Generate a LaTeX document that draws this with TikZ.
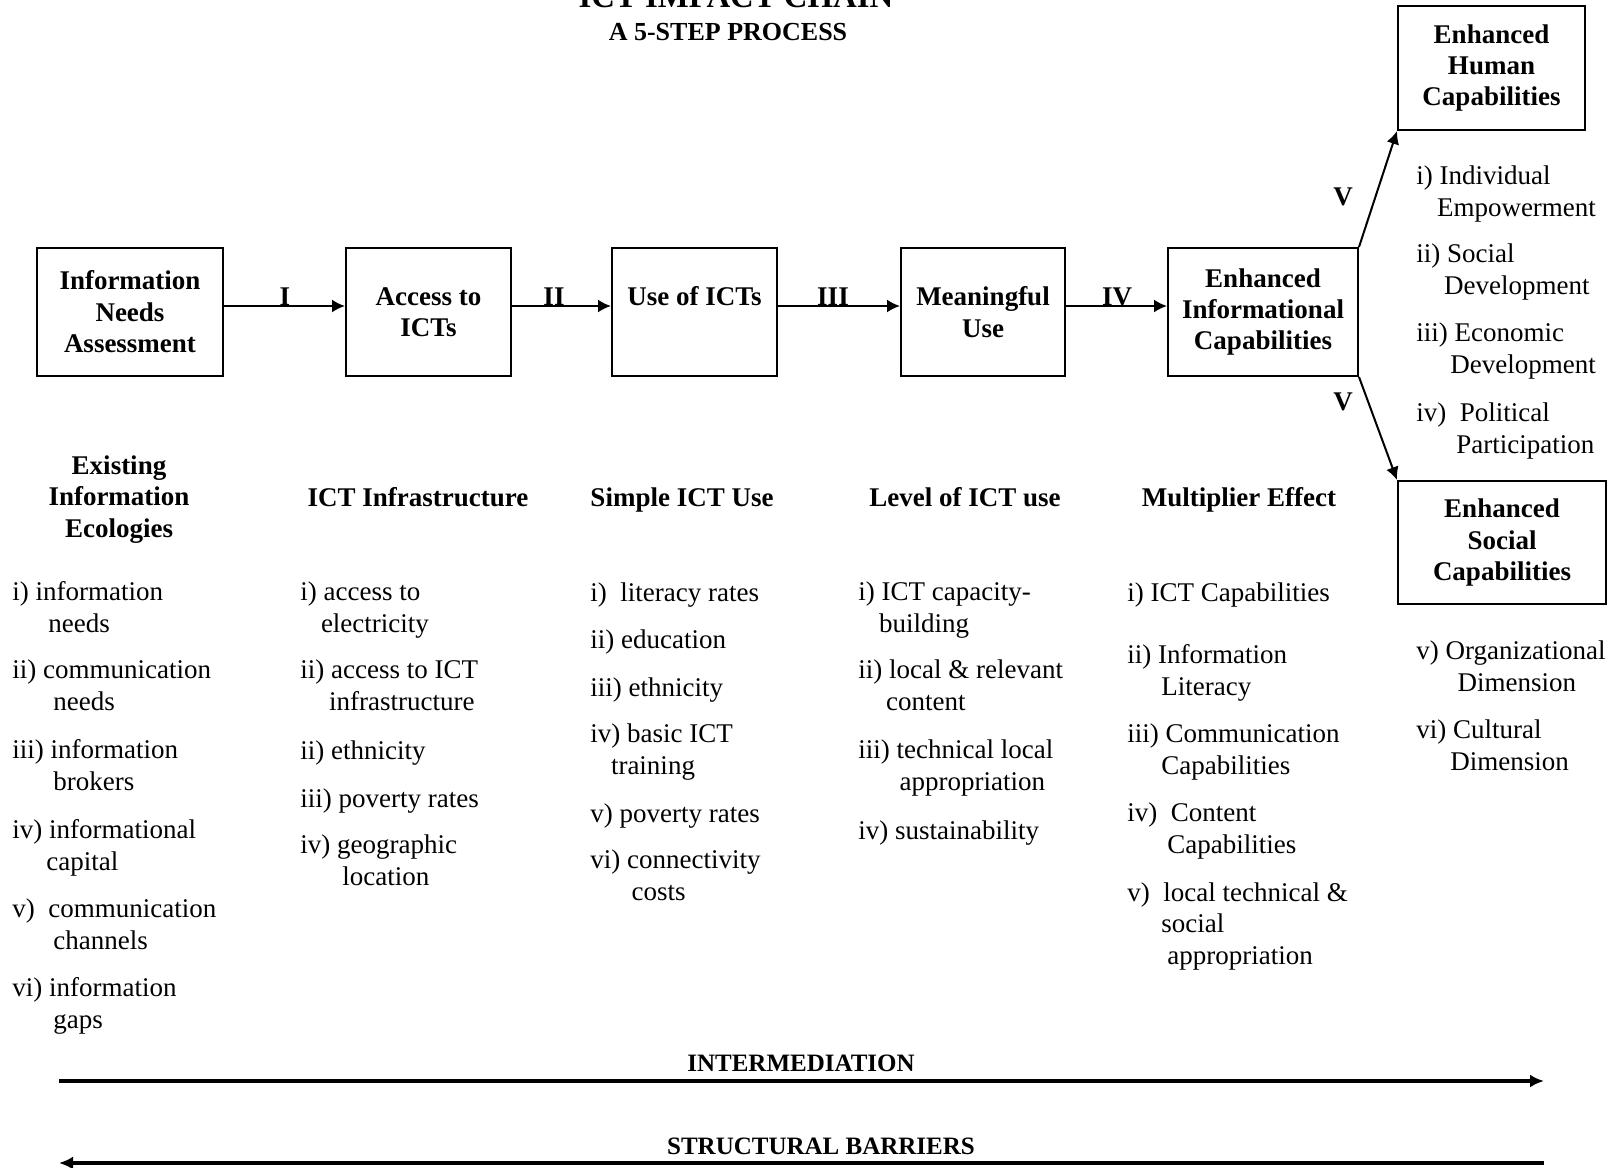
\documentclass[tikz,border=0pt]{standalone}
\usepackage{fontspec}
\setmainfont{Liberation Serif}
\usetikzlibrary{arrows.meta}

\tikzstyle{stepbox} = [draw, line width=1pt, align=center, inner sep=0pt, minimum height=64pt, font=\bfseries\fontsize{13.5}{15.7}\selectfont]
\tikzstyle{steplabel} = [anchor=base, inner sep=0pt, font=\bfseries\fontsize{13.5}{15.7}\selectfont]
\tikzstyle{colhead} = [anchor=base, align=center, inner sep=0pt, font=\bfseries\fontsize{13.5}{15.7}\selectfont]
\tikzstyle{listitem} = [anchor=base west, align=left, inner sep=0pt, font=\fontsize{13.5}{15.7}\selectfont]
\tikzstyle{barlabel} = [anchor=base, inner sep=0pt, font=\bfseries\fontsize{12.5}{15}\selectfont]
\tikzstyle{link} = [line width=1pt, -{Latex[length=6.5pt,width=6.5pt]}]
\tikzstyle{bararrow} = [line width=1.6pt, -{Latex[length=7pt,width=6.5pt]}]

\begin{document}
\begin{tikzpicture}[x=0.5pt,y=-0.5pt]
      \useasboundingbox (0,0) rectangle (1614,1168);

      % title
      \node[anchor=base, inner sep=0pt, font=\bfseries\fontsize{16.4}{19}\selectfont] (title) at (736,7) {ICT IMPACT CHAIN};
      \node[anchor=base, inner sep=0pt, font=\bfseries\fontsize{13}{15}\selectfont] (subtitle) at (728,40) {A 5-STEP PROCESS};

      % the chain
      \node[stepbox, minimum width=93pt] (needs) at (130,312) {Information\\Needs\\Assessment};
      \node[stepbox, minimum width=82.5pt] (access) at (428.5,312) {Access to\\ICTs};
      \node[stepbox, minimum width=82.5pt] (use) at (694.5,312) {Use of ICTs\\~};
      \node[stepbox, minimum width=82pt] (meaning) at (983,312) {Meaningful\\Use};
      \node[stepbox, minimum width=95pt] (info) at (1263,312) {Enhanced\\Informational\\Capabilities};
      \node[stepbox, minimum width=93.5pt, minimum height=62pt] (human) at (1491.5,68) {Enhanced\\Human\\Capabilities};
      \node[stepbox, minimum width=104pt, minimum height=61.5pt] (social) at (1502,542.5) {Enhanced\\Social\\Capabilities};

      \draw[link] ([yshift=3pt]needs.east) -- ([yshift=3pt]access.west);
      \draw[link] ([yshift=3pt]access.east) -- ([yshift=3pt]use.west);
      \draw[link] ([yshift=3pt]use.east) -- ([yshift=3pt]meaning.west);
      \draw[link] ([yshift=3pt]meaning.east) -- ([yshift=3pt]info.west);
      \draw[link] (info.north east) -- (human.south west);
      \draw[link] (info.south east) -- (social.north west);

      \node[steplabel] (s1) at (285,305) {I};
      \node[steplabel] (s2) at (554,305) {II};
      \node[steplabel] (s3) at (833,305) {III};
      \node[steplabel] (s4) at (1117,305) {IV};
      \node[steplabel] (s5up) at (1343,205) {V};
      \node[steplabel] (s5down) at (1343,410) {V};

      % column headings (base = last line)
      \node[colhead] (ecohead) at (119,537) {Existing\\Information\\Ecologies};
      \node[colhead] (infrahead) at (418,506) {ICT Infrastructure};
      \node[colhead] (usehead) at (682,506) {Simple ICT Use};
      \node[colhead] (levelhead) at (965,506) {Level of ICT use};
      \node[colhead] (multhead) at (1239,506) {Multiplier Effect};

      % information ecologies
      \node[listitem] (eco1) at (12,632) {i) information\\\hspace*{18pt}needs};
      \node[listitem] (eco2) at (12,710) {ii) communication\\\hspace*{20.5pt}needs};
      \node[listitem] (eco3) at (12,790) {iii) information\\\hspace*{20.5pt}brokers};
      \node[listitem] (eco4) at (12,870) {iv) informational\\\hspace*{17pt}capital};
      \node[listitem] (eco5) at (12,949) {v)\ \ communication\\\hspace*{20.5pt}channels};
      \node[listitem] (eco6) at (12,1028) {vi) information\\\hspace*{20.5pt}gaps};

      % infrastructure
      \node[listitem] (infra1) at (300,632) {i) access to\\\hspace*{10.3pt}electricity};
      \node[listitem] (infra2) at (300,710) {ii) access to ICT\\\hspace*{14.4pt}infrastructure};
      \node[listitem] (infra3) at (300,759) {ii) ethnicity};
      \node[listitem] (infra4) at (300,807) {iii) poverty rates};
      \node[listitem] (infra5) at (300,885) {iv) geographic\\\hspace*{21pt}location};

      % simple use
      \node[listitem] (use1) at (590,601) {i)\ \ literacy rates};
      \node[listitem] (use2) at (590,648) {ii) education};
      \node[listitem] (use3) at (590,696) {iii) ethnicity};
      \node[listitem] (use4) at (590,774) {iv) basic ICT\\\hspace*{10.3pt}training};
      \node[listitem] (use5) at (590,822) {v) poverty rates};
      \node[listitem] (use6) at (590,900) {vi) connectivity\\\hspace*{20.6pt}costs};

      % level of use
      \node[listitem] (level1) at (858,632) {i) ICT capacity-\\\hspace*{10.3pt}building};
      \node[listitem] (level2) at (858,710) {ii) local \& relevant\\\hspace*{13.9pt}content};
      \node[listitem] (level3) at (858,790) {iii) technical local\\\hspace*{20.6pt}appropriation};
      \node[listitem] (level4) at (858,839) {iv) sustainability};

      % multiplier
      \node[listitem] (mult1) at (1127,601) {i) ICT Capabilities};
      \node[listitem] (mult2) at (1127,695) {ii) Information\\\hspace*{17pt}Literacy};
      \node[listitem] (mult3) at (1127,774) {iii) Communication\\\hspace*{17pt}Capabilities};
      \node[listitem] (mult4) at (1127,853) {iv)\ \ Content\\\hspace*{20pt}Capabilities};
      \node[listitem] (mult5) at (1127,964) {v)\ \ local technical \&\\\hspace*{17pt}social\\\hspace*{20pt}appropriation};

      % human / social
      \node[listitem] (hum1) at (1416,216) {i) Individual\\\hspace*{10.3pt}Empowerment};
      \node[listitem] (hum2) at (1416,294) {ii) Social\\\hspace*{13.9pt}Development};
      \node[listitem] (hum3) at (1416,373) {iii) Economic\\\hspace*{17pt}Development};
      \node[listitem] (hum4) at (1416,453) {iv)\ \ Political\\\hspace*{20pt}Participation};
      \node[listitem] (soc1) at (1416,691) {v) Organizational\\\hspace*{20.6pt}Dimension};
      \node[listitem] (soc2) at (1416,770) {vi) Cultural\\\hspace*{17pt}Dimension};

      % bottom arrows
      \coordinate (intleft) at (59,1081);
      \coordinate (intright) at (1544,1081);
      \coordinate (barleft) at (59,1163);
      \coordinate (barright) at (1544,1163);
      \draw[bararrow] (intleft) -- (intright);
      \draw[bararrow] (barright) -- (barleft);
      \node[barlabel] (intlabel) at (801,1071) {INTERMEDIATION};
      \node[barlabel] (barlabel) at (821,1154) {STRUCTURAL BARRIERS};
    \end{tikzpicture}
\end{document}
